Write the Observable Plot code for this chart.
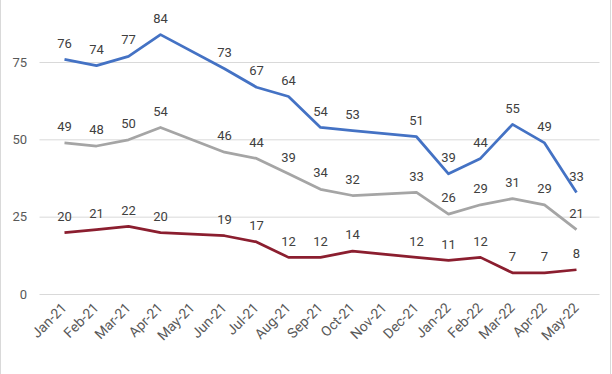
<!DOCTYPE html>
<html>
<head>
<meta charset="utf-8">
<script src="https://cdn.jsdelivr.net/npm/d3@7"></script>
<script src="https://cdn.jsdelivr.net/npm/@observablehq/plot@0.6"></script>
<style>
  html, body { margin: 0; padding: 0; background: #fff; }
  #wrap { position: relative; width: 612px; height: 374px; overflow: hidden; }
  .edge { position: absolute; top: 0; width: 1px; height: 374px; background: #D9D9D9; }
</style>
</head>
<body>
<div id="wrap">
  <div id="chart"></div>
  <div class="edge" style="left:0"></div>
  <div class="edge" style="left:610px"></div>
</div>
<script>
const months = ["Jan-21","Feb-21","Mar-21","Apr-21","May-21","Jun-21","Jul-21","Aug-21","Sep-21","Oct-21","Nov-21","Dec-21","Jan-22","Feb-22","Mar-22","Apr-22","May-22"];
const seriesA = [76,74,77,84,null,73,67,64,54,53,null,51,39,44,55,49,33];
const seriesB = [49,48,50,54,null,46,44,39,34,32,null,33,26,29,31,29,21];
const seriesC = [20,21,22,20,null,19,17,12,12,14,null,12,11,12,7,7,8];
const yTicks = [0,25,50,75];
const seriesNames = ["A","B","C"];
const seriesColors = ["#4472C4", "#A5A5A5", "#8B1E2F"];

function rows(name, vals) {
  return months.map((m, i) => ({month: m, value: vals[i], series: name})).filter(d => d.value != null);
}
const data = [...rows("A", seriesA), ...rows("B", seriesB), ...rows("C", seriesC)];

const chart = Plot.plot({
  width: 612,
  height: 374,
  marginLeft: 39.5,
  marginRight: 12.5,
  marginTop: 62,
  marginBottom: 80,
  style: {fontFamily: "Roboto, sans-serif", fontSize: "13px", color: "#595959", overflow: "visible"},
  x: {type: "point", domain: months, padding: 0.5, label: null},
  y: {domain: [0, 75], label: null},
  color: {domain: seriesNames, range: seriesColors},
  marks: [
    Plot.gridY(yTicks, {stroke: "#D9D9D9", strokeOpacity: 1, strokeWidth: 1}),
    Plot.axisY(yTicks, {tickSize: 0, tickPadding: 13, fontSize: 13, fill: "#595959"}),
    Plot.axisX(months, {tickSize: 0, tickPadding: 11, tickRotate: -45, fontSize: 14, fill: "#595959"}),
    Plot.line(data, {x: "month", y: "value", z: "series", stroke: "series", strokeWidth: 2.75, strokeLinejoin: "round", strokeLinecap: "butt"}),
    Plot.text(data, {x: "month", y: "value", text: d => String(d.value), dy: -16, fill: "#404040", fontSize: 13, textAnchor: "middle"})
  ]
});
document.getElementById("chart").appendChild(chart);
</script>
</body>
</html>
